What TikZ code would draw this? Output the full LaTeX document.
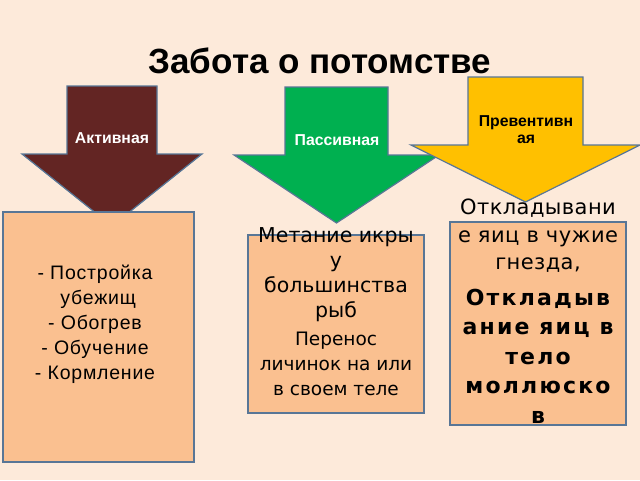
\documentclass[tikz,border=0pt]{standalone}
\usepackage{fontspec}
\setmainfont{Liberation Sans}
\newfontfamily\liberwide{Liberation Sans}[LetterSpace=4]
\newfontfamily\dejavu{DejaVu Sans}
\newfontfamily\dejavuwide{DejaVu Sans}[LetterSpace=2]
\newfontfamily\dejavubold{DejaVu Sans}[LetterSpace=10]
\usetikzlibrary{positioning}
\definecolor{bgpeach}{RGB}{253,234,218}
\definecolor{arrbrown}{RGB}{99,37,35}
\definecolor{arrgreen}{RGB}{0,176,80}
\definecolor{arryellow}{RGB}{255,192,0}
\definecolor{boxfill}{RGB}{250,192,144}
\definecolor{edgeblue}{RGB}{88,118,150}
\tikzset{
  downarrow/.style={draw=edgeblue, line width=1.2pt, line join=miter},
  textbox/.style={draw=edgeblue, fill=boxfill, line width=1.5pt, inner sep=0pt},
  arrowlabel/.style={font=\bfseries\fontsize{15.8}{17}\selectfont, align=center},
}

\begin{document}
\begin{tikzpicture}[x=1pt,y=-1pt]
  % background
  \fill[bgpeach] (0,0) rectangle (640,480);
  \useasboundingbox (0,0) rectangle (640,480);
  % title
  \node[anchor=base, font=\bfseries\fontsize{35}{42}\selectfont] (title) at (320,73) {Забота о потомстве};
  % three block arrows: centre/shaft half width/top/wing y/wing half width/tip y/colour
  \foreach \cx/\sw/\ty/\wy/\ww/\tip/\col in {112/45/86/154/90/226/arrbrown, 336.5/51.5/87/155/102.5/223/arrgreen, 525.5/57.5/77/145/114.5/202/arryellow}
    \draw[downarrow, fill=\col] (\cx-\sw,\ty) -- (\cx+\sw,\ty) -- (\cx+\sw,\wy) -- (\cx+\ww,\wy)
      -- (\cx,\tip) -- (\cx-\ww,\wy) -- (\cx-\sw,\wy) -- cycle;
  \node[arrowlabel, text=white] (active) at (112,138) {Активная};
  \node[arrowlabel, text=white] (passive) at (337,140) {Пассивная};
  \node[arrowlabel] (prevent) at (526,130) {Превентивн\\ая};
  % boxes
  \node[textbox, minimum width=191pt, minimum height=250pt] (activebox) at (98.5,337) {};
  \node[textbox, minimum width=176pt, minimum height=178pt] (passivebox) at (336,324) {};
  \node[textbox, minimum width=176pt, minimum height=203pt] (preventbox) at (538,323.5) {};
  % box texts
  \node[align=center, font=\liberwide\fontsize{19.5}{25}\selectfont] (activetext) at (95,324)
    {- Постройка\\\ убежищ\\- Обогрев\\- Обучение\\- Кормление};
  \node[align=center, font=\dejavu\fontsize{20.5}{25}\selectfont] (passivetext) at (336,274.5)
    {Метание икры\\у\\большинства\\рыб};
  \node[align=center, font=\dejavu\fontsize{18.5}{25}\selectfont] (passivemore) at (336,364)
    {Перенос\\личинок на или\\в своем теле};
  \node[align=center, font=\dejavuwide\fontsize{21}{27.5}\selectfont] (preventtext) at (538,236)
    {Откладывани\\е яиц в чужие\\гнезда,};
  \node[align=center, font=\dejavubold\bfseries\fontsize{22}{29.5}\selectfont] (preventbold) at (538,356)
    {Откладыв\\ание яиц в\\тело\\моллюско\\в};
\end{tikzpicture}
\end{document}
